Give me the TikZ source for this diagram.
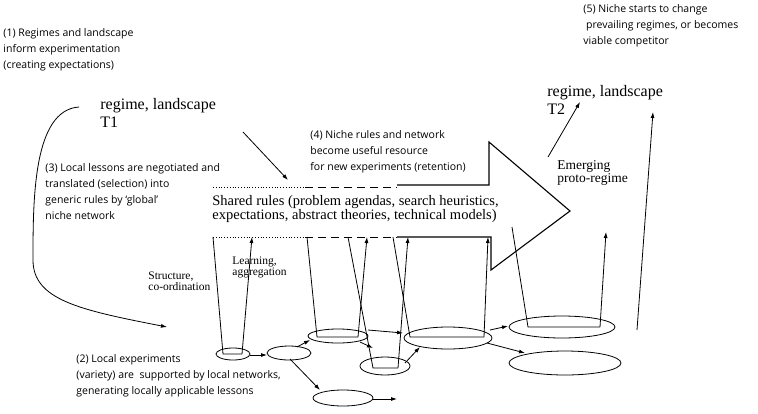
\documentclass[tikz,border=0pt]{standalone}
\usepackage{fontspec}
\setmainfont{Liberation Serif}
\setsansfont{Open Sans}
\usetikzlibrary{arrows.meta}
\begin{document}
\begin{tikzpicture}[x=1pt,y=-1pt,line width=0.8pt,
  arr/.style={-{Latex[length=6pt,width=4pt]}},
  el/.style={draw,ellipse,minimum width=#1},
  sans/.style={font=\sffamily\fontsize{10.5}{16}\selectfont,align=left,anchor=north west,inner sep=0},
  ser/.style={font=\fontsize{#1}{#1}\selectfont,align=left,anchor=north west,inner sep=0}]
\useasboundingbox (0,0) rectangle (758,413);
% ellipses
\draw (233,354) ellipse (17 and 6);
\coordinate (e1) at (233,354);
\draw (289,353) ellipse (22 and 7);
\draw (338,336) ellipse (30 and 7);
\draw (385,366) ellipse (25 and 9);
\draw (448,338) ellipse (44 and 11);
\draw (562,327) ellipse (53 and 11);
\draw (565,363) ellipse (56 and 12);
\draw (343,398) ellipse (30 and 8);
% connectors between ellipses
\draw[arr] (250,355) -- (267,355);
\draw[arr] (297,347) -- (310,340);
\draw[arr] (290,359) -- (320,390);
\draw[arr] (373,399) -- (397,399);
\draw[arr] (360,342) -- (373,348);
\draw[arr] (368,330) -- (403,333);
\draw[arr] (405,363) -- (420,347);
\draw[arr] (490,330) -- (508,326);
\draw[arr] (487,343) -- (525,353);
% band
\draw[dotted] (213,187) -- (305,187);
\draw[dashed,dash pattern=on 8pt off 5pt] (305,187) -- (397,187);
\draw[dotted] (213,237) -- (305,237);
\draw[dashed,dash pattern=on 8pt off 5pt] (305,237) -- (397,237);
\draw[line width=1.1pt,line join=miter] (397,185) -- (489,185) -- (489,142) -- (570,211) -- (491,270) -- (491,237) -- (397,237);
% verticals
\draw (213,237) -- (223,354) -- (242,354);
\draw[arr] (242,354) -- (252,237);
\draw (307,237) -- (317,337) -- (358,337);
\draw[arr] (358,337) -- (367,237);
\draw (348,237) -- (373,368) -- (398,368);
\draw[arr] (398,368) -- (408,237);
\draw (393,237) -- (410,337) -- (484,337);
\draw[arr] (484,337) -- (488,237);
\draw (512,227) -- (528,327) -- (600,327);
\draw[arr] (600,327) -- (606,232);
\draw[arr] (637,330) -- (653,112);
\draw[arr] (548,157) -- (580,102);
\draw[arr] (243,132) -- (288,180);
\draw[arr] (79,107) .. controls (33,110) and (33,200) .. (33,260) .. controls (33,300) and (80,310) .. (167,327);
% texts
\node[sans] (t1) at (3,28) {(1) Regimes and landscape\\inform experimentation\\(creating expectations)};
\node[ser=16] (r1) at (100,98) {regime, landscape\\[2pt]T1};
\node[sans] (t3) at (45,163) {(3) Local lessons are negotiated and\\translated (selection) into\\generic rules by `global'\\niche network};
\node[ser=11.5] (st) at (148,271) {Structure,\\co-ordination};
\node[ser=11.5] (la) at (232,256) {Learning,\\aggregation};
\node[sans] (t2) at (76,354) {(2) Local experiments\\(variety) are \ supported by local networks,\\generating locally applicable lessons};
\node[sans] (t4) at (310,130) {(4) Niche rules and network\\become useful resource\\for new experiments (retention)};
\node[ser=14.5] (sr) at (212,195) {Shared rules (problem agendas, search heuristics,\\expectations, abstract theories, technical models)};
\node[ser=13.5] (em) at (557,160) {Emerging\\proto-regime};
\node[ser=16] (r2) at (547,85) {regime, landscape\\[2pt]T2};
\node[sans] (t5) at (583,4) {(5) Niche starts to change\\\ prevailing regimes, or becomes\\viable competitor};
\end{tikzpicture}
\end{document}
